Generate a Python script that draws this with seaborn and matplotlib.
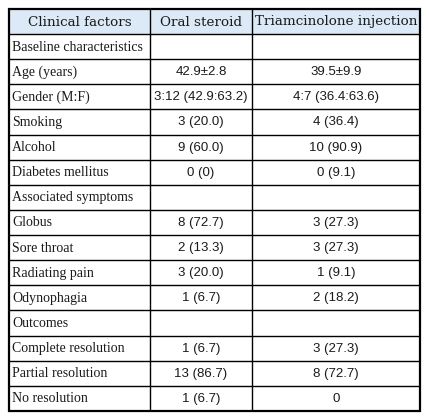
import matplotlib
matplotlib.use("Agg")
import matplotlib.pyplot as plt
from matplotlib.patches import Rectangle
import seaborn as sns

# table content
headers = ["Clinical factors", "Oral steroid", "Triamcinolone injection"]
factors = ["Baseline characteristics", "Age (years)", "Gender (M:F)", "Smoking",
           "Alcohol", "Diabetes mellitus", "Associated symptoms", "Globus",
           "Sore throat", "Radiating pain", "Odynophagia", "Outcomes",
           "Complete resolution", "Partial resolution", "No resolution"]
oral_steroid = ["", "42.9\u00b12.8", "3:12 (42.9:63.2)", "3 (20.0)", "9 (60.0)",
                "0 (0)", "", "8 (72.7)", "2 (13.3)", "3 (20.0)", "1 (6.7)", "",
                "1 (6.7)", "13 (86.7)", "1 (6.7)"]
triamcinolone = ["", "39.5\u00b19.9", "4:7 (36.4:63.6)", "4 (36.4)", "10 (90.9)",
                 "0 (9.1)", "", "3 (27.3)", "3 (27.3)", "1 (9.1)", "2 (18.2)", "",
                 "3 (27.3)", "8 (72.7)", "0"]

sns.set_theme(style="white")
plt.rcParams['font.family'] = ['Liberation Serif', 'DejaVu Serif']

W, H = 429, 420
fig = plt.figure(figsize=(W / 100, H / 100), dpi=100)
ax = fig.add_axes([0, 0, 1, 1])
ax.set_xlim(0, W)
ax.set_ylim(H, 0)
ax.axis('off')

# layout in pixels
col_edges = [9, 150, 252, 420]
top, header_bottom, bottom = 9, 34, 411
row_h = (bottom - header_bottom) / len(factors)
row_edges = [top, header_bottom] + [header_bottom + row_h * (i + 1) for i in range(len(factors))]

ax.add_patch(Rectangle((col_edges[0], top), col_edges[-1] - col_edges[0],
                       header_bottom - top, facecolor="#dceaf8", edgecolor="none"))

# inner lines
ax.hlines(row_edges[1:-1], col_edges[0], col_edges[-1], color="black", lw=1.0)
ax.vlines(col_edges[1:-1], top, bottom, color="black", lw=1.0)
# outer border
ax.add_patch(Rectangle((col_edges[0], top), col_edges[-1] - col_edges[0], bottom - top,
                       facecolor="none", edgecolor="black", lw=1.6))

txt_color = "#1a1a1a"
centers = [(col_edges[i] + col_edges[i + 1]) / 2 for i in range(3)]
for c, h in zip(centers, headers):
    ax.text(c, (top + header_bottom) / 2 + 0.5, h, ha='center', va='center',
            fontsize=9.7, color=txt_color, family=['DejaVu Serif'])

num_font = ['Liberation Sans', 'DejaVu Sans']
for i, (f, o, t) in enumerate(zip(factors, oral_steroid, triamcinolone)):
    y = header_bottom + row_h * (i + 0.5) + 0.5
    ax.text(col_edges[0] + 3, y, f, ha='left', va='center', fontsize=10, color=txt_color)
    ax.text(centers[1], y, o, ha='center', va='center', fontsize=9.5,
            color=txt_color, family=num_font)
    ax.text(centers[2], y, t, ha='center', va='center', fontsize=9.5,
            color=txt_color, family=num_font)

fig.savefig("out.png", dpi=100)
